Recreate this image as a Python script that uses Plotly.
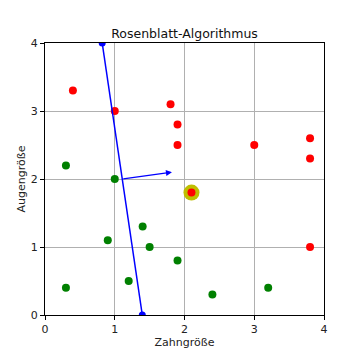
import plotly.graph_objects as go

red_x = [0.4, 1.0, 1.8, 1.9, 1.9, 3.0, 3.8, 3.8, 2.1, 3.8]
red_y = [3.3, 3.0, 3.1, 2.8, 2.5, 2.5, 2.6, 2.3, 1.8, 1.0]
green_x = [0.3, 1.0, 1.4, 0.9, 1.5, 1.9, 1.2, 0.3, 2.4, 3.2]
green_y = [2.2, 2.0, 1.3, 1.1, 1.0, 0.8, 0.5, 0.4, 0.3, 0.4]
highlight_x = [2.1]
highlight_y = [1.8]
line_x = [0.82, 1.395]
line_y = [4.0, 0.0]
arrow_start = (1.1, 2.0)
arrow_end = (1.82, 2.1)

fig = go.Figure()
fig.add_trace(go.Scatter(x=highlight_x, y=highlight_y, mode="markers",
                         marker=dict(size=16, color="#bfbf00", line=dict(width=0)), showlegend=False))
fig.add_trace(go.Scatter(x=red_x, y=red_y, mode="markers",
                         marker=dict(size=8, color="#ff0000", line=dict(width=0)), showlegend=False))
fig.add_trace(go.Scatter(x=green_x, y=green_y, mode="markers",
                         marker=dict(size=8, color="#008000", line=dict(width=0)), showlegend=False))
fig.add_trace(go.Scatter(x=line_x, y=line_y, mode="lines+markers",
                         line=dict(color="#0000ff", width=1.5),
                         marker=dict(size=7, color="#0000ff"), showlegend=False))
fig.add_annotation(x=arrow_end[0], y=arrow_end[1], ax=arrow_start[0], ay=arrow_start[1],
                   xref="x", yref="y", axref="x", ayref="y", text="", showarrow=True,
                   arrowhead=2, arrowsize=1, arrowwidth=1.2, arrowcolor="#0000ff")

axis_common = dict(range=[0, 4], dtick=1, showgrid=True, gridcolor="#b0b0b0", gridwidth=1,
                   showline=True, linecolor="black", linewidth=1, mirror=True,
                   ticks="outside", ticklen=4, tickcolor="black", zeroline=False,
                   automargin=False, tickfont=dict(size=11, color="#222"))
fig.update_xaxes(**axis_common, title=dict(text="Zahngröße", font=dict(size=11, color="#222"), standoff=2))
fig.update_yaxes(**axis_common, title=dict(text="Augengröße", font=dict(size=11, color="#222"), standoff=2))
fig.update_layout(
    width=360, height=360,
    margin=dict(l=37, r=44, t=35, b=53),
    paper_bgcolor="white", plot_bgcolor="white",
    font=dict(family="DejaVu Sans", size=11, color="#222"),
    title=dict(text="Rosenblatt-Algorithmus", x=0.5, xref="paper", xanchor="center",
               y=1, yref="paper", yanchor="bottom", pad=dict(b=5), automargin=False,
               font=dict(size=12.5, color="#111")),
)
fig.write_html("out.html")
